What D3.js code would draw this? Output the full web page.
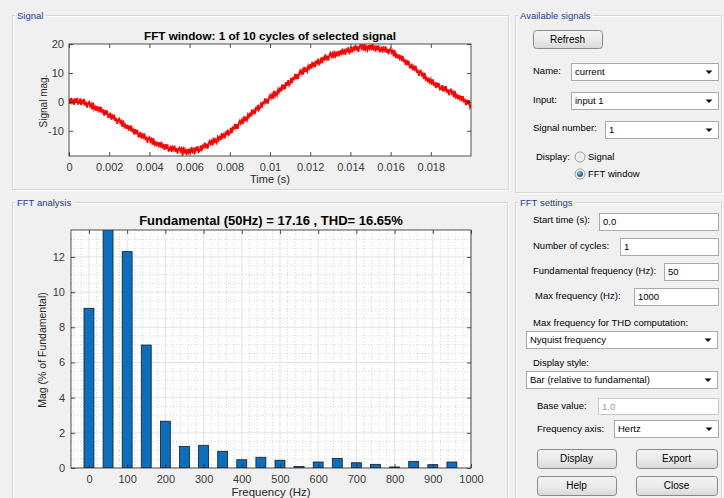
<!DOCTYPE html>
<html>
<head>
<meta charset="utf-8">
<script src="https://cdn.jsdelivr.net/npm/d3@7"></script>
<style>
  html, body { margin: 0; padding: 0; background: #f0f0f0; }
  svg { display: block; font-family: "Liberation Sans", Arial, sans-serif; }
</style>
</head>
<body>
<svg id="gui" width="724" height="498"></svg>
<script>
const sampleTime = 0.00005;
const signalValues = [
  1.0, -0.7, 1.4, -0.2, 0.6, -1.0, 1.2, -0.3, 1.4, -0.7,
  -0.4, 1.2, -1.1, 0.4, -0.4, 1.0, -1.3, 0.0, -2.0, -0.5,
  0.0, -1.5, -0.7, -2.6, -0.3, -2.5, -1.7, -3.1, -1.5, -2.9,
  -1.7, -3.6, -1.7, -3.5, -3.0, -4.7, -2.8, -4.5, -3.0, -5.3,
  -5.2, -3.7, -6.1, -4.7, -5.6, -4.4, -6.7, -5.5, -7.6, -6.2,
  -5.8, -7.3, -6.6, -8.6, -6.4, -8.6, -7.9, -9.3, -7.9, -9.3,
  -8.2, -10.1, -8.2, -10.1, -9.6, -11.3, -9.4, -11.1, -9.7, -12.0,
  -11.9, -10.4, -12.7, -11.3, -12.2, -10.9, -13.2, -12.0, -14.1, -12.6,
  -12.2, -13.7, -12.9, -14.8, -12.5, -14.7, -14.0, -15.3, -13.8, -15.1,
  -14.0, -15.8, -13.8, -15.6, -15.0, -16.6, -14.6, -16.2, -14.7, -16.9,
  -16.7, -15.1, -17.3, -15.7, -16.5, -15.1, -17.3, -16.0, -17.9, -16.3,
  -15.8, -17.1, -16.2, -18.6, -15.5, -17.7, -16.7, -18.4, -16.3, -17.5,
  -16.2, -17.8, -15.6, -17.2, -16.4, -18.1, -15.6, -17.0, -15.3, -17.3,
  -16.9, -15.0, -17.0, -15.2, -15.7, -14.1, -16.0, -14.4, -16.1, -14.3,
  -13.5, -14.6, -13.5, -15.0, -12.4, -14.2, -13.1, -14.1, -12.2, -13.2,
  -11.7, -13.2, -10.8, -12.2, -11.3, -12.6, -10.2, -11.5, -9.6, -11.4,
  -10.9, -8.9, -10.8, -8.9, -9.3, -7.6, -9.4, -7.7, -9.3, -7.4,
  -6.5, -7.5, -6.3, -7.7, -5.0, -6.7, -5.5, -6.4, -4.4, -5.3,
  -3.7, -5.1, -2.7, -4.0, -3.0, -4.2, -1.8, -3.0, -1.0, -2.8,
  -2.2, -0.2, -2.0, -0.2, -0.6, 1.2, -0.6, 1.1, -0.6, 1.4,
  2.3, 1.3, 2.5, 1.1, 3.8, 2.1, 3.2, 2.3, 4.3, 3.4,
  5.0, 3.6, 6.0, 4.6, 5.6, 4.4, 6.8, 5.6, 7.5, 5.7,
  6.3, 8.3, 6.5, 8.3, 7.9, 9.7, 7.9, 9.6, 7.9, 9.9,
  10.8, 9.7, 10.9, 9.4, 12.1, 10.3, 11.4, 10.5, 12.4, 11.5,
  13.0, 11.5, 13.8, 12.4, 13.3, 12.0, 14.3, 13.0, 14.9, 13.0,
  13.5, 15.4, 13.4, 15.2, 14.7, 16.4, 14.4, 16.0, 14.3, 16.1,
  16.9, 15.7, 16.7, 15.1, 17.6, 15.8, 16.8, 15.7, 17.5, 16.4,
  17.8, 16.2, 18.4, 16.9, 17.7, 16.3, 18.5, 17.1, 18.9, 16.9,
  17.3, 19.1, 17.1, 18.7, 18.1, 19.7, 17.7, 19.2, 17.3, 19.1,
  19.8, 18.5, 19.4, 17.7, 20.1, 18.1, 19.0, 17.9, 19.6, 18.4,
  19.7, 17.9, 20.0, 18.3, 19.0, 17.4, 19.4, 17.9, 19.5, 17.4,
  17.6, 19.2, 17.0, 18.6, 17.8, 19.2, 17.0, 18.3, 16.4, 18.0,
  18.5, 17.0, 17.7, 15.7, 17.9, 15.7, 16.4, 15.0, 16.4, 15.0,
  16.1, 14.1, 15.9, 14.1, 14.5, 12.7, 14.5, 12.7, 14.2, 11.8,
  11.8, 13.2, 10.9, 12.2, 11.2, 12.5, 10.1, 11.2, 9.0, 10.5,
  10.8, 9.2, 9.8, 7.9, 10.0, 7.7, 8.3, 6.8, 8.3, 6.8,
  7.8, 5.9, 7.8, 6.0, 6.5, 4.8, 6.7, 5.0, 6.5, 4.2,
  4.3, 5.8, 3.6, 5.0, 4.1, 5.5, 3.2, 4.4, 2.3, 3.9,
  4.3, 2.8, 3.5, 1.6, 3.8, 1.6, 2.3, 0.9, 2.4, 1.0,
  2.1, 0.2, 2.0, 0.2, 0.7, -1.1, 0.8, -0.9, 0.6, -1.8,
  -1.0
];
const signalXTicks = [0, 0.002, 0.004, 0.006, 0.008, 0.01, 0.012, 0.014, 0.016, 0.018];
const signalYTicks = [-10, 0, 10, 20];

// FFT: harmonic magnitudes in % of fundamental (50 Hz bar = 100, clipped by the axes)
const harmonicFreqs = [0, 50, 100, 150, 200, 250, 300, 350, 400, 450, 500, 550, 600, 650, 700, 750, 800, 850, 900, 950];
const harmonicMags = [9.08, 100, 12.30, 6.99, 2.66, 1.23, 1.29, 0.95, 0.47, 0.61, 0.44, 0.09, 0.34, 0.55, 0.30, 0.21, 0.06, 0.38, 0.19, 0.34];
const fftXTicks = [0, 100, 200, 300, 400, 500, 600, 700, 800, 900, 1000];
const fftYTicks = [0, 2, 4, 6, 8, 10, 12];

const signalTitle = 'FFT window: 1 of 10 cycles of selected signal';
const fftTitle = 'Fundamental (50Hz) = 17.16 , THD= 16.65%';

const svg = d3.select('#gui');
const defs = svg.append('defs');

const btnGrad = defs.append('linearGradient').attr('id', 'btnGrad').attr('x1', 0).attr('y1', 0).attr('x2', 0).attr('y2', 1);
btnGrad.append('stop').attr('offset', '0%').attr('stop-color', '#f4f4f4');
btnGrad.append('stop').attr('offset', '50%').attr('stop-color', '#ebebeb');
btnGrad.append('stop').attr('offset', '100%').attr('stop-color', '#d9d9d9');

const radioGrad = defs.append('radialGradient').attr('id', 'radioGrad');
radioGrad.append('stop').attr('offset', '0%').attr('stop-color', '#e4e4e4');
radioGrad.append('stop').attr('offset', '100%').attr('stop-color', '#f8f8f8');

const dotGrad = defs.append('radialGradient').attr('id', 'dotGrad').attr('cx', '40%').attr('cy', '35%');
dotGrad.append('stop').attr('offset', '0%').attr('stop-color', '#8fd3ff');
dotGrad.append('stop').attr('offset', '100%').attr('stop-color', '#1c5f9c');

svg.append('rect').attr('width', 724).attr('height', 498).attr('fill', '#f0f0f0');

// ---- panels ----
function panel(x, y, w, h, label) {
    const g = svg.append('g');
    g.append('rect').attr('x', x + 1.5).attr('y', y + 1.5).attr('width', w).attr('height', h)
        .attr('fill', 'none').attr('stroke', '#ffffff');
    g.append('rect').attr('x', x + 0.5).attr('y', y + 0.5).attr('width', w).attr('height', h)
        .attr('fill', 'none').attr('stroke', '#d5d5d5');
    const t = g.append('text').attr('x', x + 5).attr('y', y + 3.5)
        .attr('font-size', 9.5).attr('fill', '#233e9a').text(label);
    const bb = t.node().getBBox();
    g.insert('rect', 'text').attr('x', bb.x - 2).attr('y', bb.y).attr('width', bb.width + 4)
        .attr('height', bb.height).attr('fill', '#f0f0f0');
}

panel(12, 15, 496, 174, 'Signal');
panel(12, 202, 495, 310, 'FFT analysis');
panel(515, 15, 206, 177, 'Available signals');
panel(515, 202, 206, 310, 'FFT settings');

// ---- helpers for axes ----
function styleAxis(g, size) {
    g.select('.domain').remove();
    g.selectAll('.tick line').attr('stroke', '#262626').attr('stroke-width', 0.8);
    g.selectAll('.tick text').attr('fill', '#3a3a3a').attr('font-size', size)
        .attr('font-family', '"Liberation Sans", Arial, sans-serif');
}

function boxAxes(x, y, xTicks, yTicks, xFmt, yFmt, pad) {
    const [x0, x1] = x.range();
    const [y0, y1] = y.range();
    const gb = svg.append('g').attr('transform', `translate(0,${y0})`)
        .call(d3.axisBottom(x).tickValues(xTicks).tickFormat(xFmt).tickSizeInner(-4).tickSizeOuter(0).tickPadding(pad.x));
    styleAxis(gb, 11);
    const gt = svg.append('g').attr('transform', `translate(0,${y1})`)
        .call(d3.axisTop(x).tickValues(xTicks).tickFormat('').tickSizeInner(-4).tickSizeOuter(0));
    styleAxis(gt, 11);
    const gl = svg.append('g').attr('transform', `translate(${x0},0)`)
        .call(d3.axisLeft(y).tickValues(yTicks).tickFormat(yFmt).tickSizeInner(-4).tickSizeOuter(0).tickPadding(pad.y));
    styleAxis(gl, 11);
    const gr = svg.append('g').attr('transform', `translate(${x1},0)`)
        .call(d3.axisRight(y).tickValues(yTicks).tickFormat('').tickSizeInner(-4).tickSizeOuter(0));
    styleAxis(gr, 11);
    svg.append('rect').attr('x', x0).attr('y', y1).attr('width', x1 - x0).attr('height', y0 - y1)
        .attr('fill', 'none').attr('stroke', '#262626').attr('stroke-width', 0.8);
}

// ---- Signal plot ----
const sx = d3.scaleLinear().domain([0, 0.02]).range([69, 471]);
const sy = d3.scaleLinear().domain([-18.7, 20]).range([156, 44]);

svg.append('rect').attr('x', 69).attr('y', 44).attr('width', 402).attr('height', 112).attr('fill', '#ffffff');
defs.append('clipPath').attr('id', 'clipSig').append('rect')
    .attr('x', 69).attr('y', 44).attr('width', 402).attr('height', 112);

const sigLine = d3.line().x((d, i) => sx(i * sampleTime)).y(d => sy(d));
svg.append('path').datum(signalValues).attr('clip-path', 'url(#clipSig)')
    .attr('d', sigLine).attr('fill', 'none').attr('stroke', '#ff0000').attr('stroke-width', 1.7)
    .attr('stroke-linejoin', 'miter');

boxAxes(sx, sy, signalXTicks, signalYTicks, d => String(+d.toFixed(3)), d => String(d), { x: 7, y: 5 });

svg.append('text').attr('x', 270).attr('y', 40).attr('text-anchor', 'middle')
    .attr('font-size', 11.7).attr('font-weight', 'bold').attr('fill', '#000').text(signalTitle);
svg.append('text').attr('x', 270).attr('y', 183).attr('text-anchor', 'middle')
    .attr('font-size', 11).attr('fill', '#262626').text('Time (s)');
svg.append('text').attr('transform', 'translate(47,101) rotate(-90)').attr('text-anchor', 'middle')
    .attr('font-size', 10).attr('fill', '#262626').text('Signal mag.');

// ---- FFT plot ----
const fx = d3.scaleLinear().domain([-47, 1000]).range([71, 471]);
const fy = d3.scaleLinear().domain([0, 13.53]).range([468, 230]);

svg.append('rect').attr('x', 71).attr('y', 230).attr('width', 400).attr('height', 238).attr('fill', '#ffffff');
defs.append('clipPath').attr('id', 'clipFft').append('rect')
    .attr('x', 71).attr('y', 230).attr('width', 400).attr('height', 238);

const grid = svg.append('g').attr('clip-path', 'url(#clipFft)');
const minorX = d3.range(-40, 1000, 20).filter(v => v % 100 !== 0);
const minorY = d3.range(0.5, 13.5, 0.5).filter(v => v % 2 !== 0);
grid.selectAll('.mx').data(minorX).join('line')
    .attr('x1', d => fx(d)).attr('x2', d => fx(d)).attr('y1', 230).attr('y2', 468)
    .attr('stroke', '#c4c4c4').attr('stroke-width', 0.7).attr('stroke-dasharray', '1,2');
grid.selectAll('.my').data(minorY).join('line')
    .attr('x1', 71).attr('x2', 471).attr('y1', d => fy(d)).attr('y2', d => fy(d))
    .attr('stroke', '#c4c4c4').attr('stroke-width', 0.7).attr('stroke-dasharray', '1,2');
grid.selectAll('.gx').data(fftXTicks).join('line')
    .attr('x1', d => fx(d)).attr('x2', d => fx(d)).attr('y1', 230).attr('y2', 468)
    .attr('stroke', '#dcdcdc').attr('stroke-width', 0.8);
grid.selectAll('.gy').data(fftYTicks).join('line')
    .attr('x1', 71).attr('x2', 471).attr('y1', d => fy(d)).attr('y2', d => fy(d))
    .attr('stroke', '#dcdcdc').attr('stroke-width', 0.8);

const barHz = 26;
svg.append('g').attr('clip-path', 'url(#clipFft)')
    .selectAll('rect').data(harmonicFreqs).join('rect')
    .attr('x', d => fx(d - barHz / 2))
    .attr('width', fx(barHz) - fx(0))
    .attr('y', (d, i) => fy(harmonicMags[i]))
    .attr('height', (d, i) => fy(0) - fy(harmonicMags[i]))
    .attr('fill', '#0a6fbf').attr('stroke', '#1a1a1a').attr('stroke-width', 0.8);

boxAxes(fx, fy, fftXTicks, fftYTicks, d => String(d), d => String(d), { x: 7, y: 6 });

svg.append('text').attr('x', 271).attr('y', 225).attr('text-anchor', 'middle')
    .attr('font-size', 13).attr('font-weight', 'bold').attr('fill', '#000').text(fftTitle);
svg.append('text').attr('x', 271).attr('y', 495.5).attr('text-anchor', 'middle')
    .attr('font-size', 11.5).attr('fill', '#262626').text('Frequency (Hz)');
svg.append('text').attr('transform', 'translate(46,350) rotate(-90)').attr('text-anchor', 'middle')
    .attr('font-size', 10.5).attr('fill', '#262626').text('Mag (% of Fundamental)');

// ---- UI controls ----
const uiFont = 9.5;

function label(x, cy, text) {
    svg.append('text').attr('x', x).attr('y', cy + 3.4).attr('font-size', uiFont).attr('fill', '#000').text(text);
}

function button(x, y, w, h, text) {
    svg.append('rect').attr('x', x + 0.5).attr('y', y + 0.5).attr('width', w).attr('height', h).attr('rx', 3)
        .attr('fill', 'url(#btnGrad)').attr('stroke', '#8a8a8a');
    svg.append('text').attr('x', x + w / 2).attr('y', y + h / 2 + 3.6).attr('text-anchor', 'middle')
        .attr('font-size', 10).attr('fill', '#000').text(text);
}

function editBox(x, y, w, h, value, disabled) {
    svg.append('rect').attr('x', x + 0.5).attr('y', y + 0.5).attr('width', w).attr('height', h)
        .attr('fill', '#ffffff').attr('stroke', disabled ? '#c9c9c9' : '#aaaaaa');
    svg.append('text').attr('x', x + 4).attr('y', y + h / 2 + 3.8).attr('font-size', uiFont)
        .attr('fill', disabled ? '#9a9a9a' : '#000').text(value);
}

function dropdown(x, y, w, h, value) {
    editBox(x, y, w, h, value, false);
    const ax = x + w - 9, ay = y + h / 2 - 1;
    svg.append('path').attr('d', `M${ax - 3.5},${ay} L${ax + 3.5},${ay} L${ax},${ay + 3.5} Z`).attr('fill', '#111');
}

function radio(cx, cy, checked) {
    svg.append('circle').attr('cx', cx).attr('cy', cy).attr('r', 5).attr('fill', 'url(#radioGrad)').attr('stroke', '#9a9a9a');
    if (checked) svg.append('circle').attr('cx', cx).attr('cy', cy).attr('r', 3).attr('fill', 'url(#dotGrad)');
}

// Available signals
button(533, 30, 69, 18, 'Refresh');
label(533, 71, 'Name:');
dropdown(571, 63, 147, 17, 'current');
label(533, 100, 'Input:');
dropdown(571, 92, 147, 17, 'input 1');
label(533, 128, 'Signal number:');
dropdown(605, 121, 113, 17, '1');
label(536, 157, 'Display:');
radio(580, 157, false);
label(588, 157, 'Signal');
radio(580, 174, true);
label(588, 174, 'FFT window');

// FFT settings
label(533, 220, 'Start time (s):');
editBox(599, 213, 119, 17, '0.0', false);
label(533, 246, 'Number of cycles:');
editBox(620, 238, 98, 17, '1', false);
label(533, 271, 'Fundamental frequency (Hz):');
editBox(664, 263, 54, 17, '50', false);
label(535, 296, 'Max frequency (Hz):');
editBox(634, 288, 84, 17, '1000', false);
label(533, 323, 'Max frequency for THD computation:');
dropdown(526, 331, 191, 17, 'Nyquist frequency');
label(533, 363, 'Display style:');
dropdown(526, 371, 191, 17, 'Bar (relative to fundamental)');
label(537, 406, 'Base value:');
editBox(598, 398, 120, 16, '1.0', true);
label(537, 429, 'Frequency axis:');
dropdown(614, 420, 104, 17, 'Hertz');
button(537, 449, 79, 19, 'Display');
button(636, 449, 81, 19, 'Export');
button(537, 476, 79, 19, 'Help');
button(636, 476, 81, 19, 'Close');
</script>
</body>
</html>
